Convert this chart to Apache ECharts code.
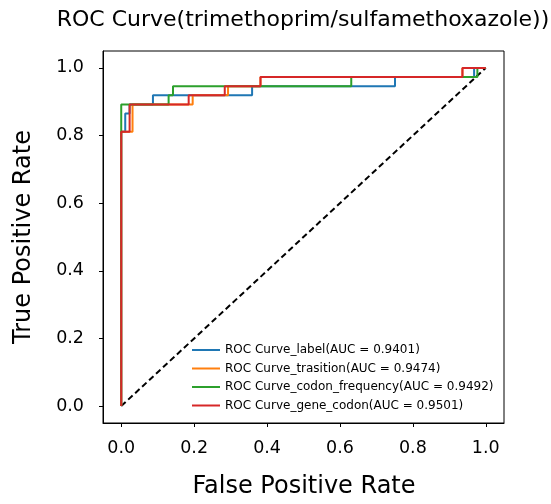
<!DOCTYPE html>
<html>
<head>
<meta charset="utf-8">
<script src="https://cdn.jsdelivr.net/npm/echarts@6/dist/echarts.min.js"></script>
<style>html,body{margin:0;padding:0;background:#fff}#c{width:551px;height:504px}</style>
</head>
<body>
<div id="c"></div>
<script>
var titleText = 'ROC Curve(trimethoprim/sulfamethoxazole))';
var xName = 'False Positive Rate';
var yName = 'True Positive Rate';
var tickValues = [0, 0.2, 0.4, 0.6, 0.8, 1.0];

var seriesNames = [
  'ROC Curve_label(AUC = 0.9401)',
  'ROC Curve_trasition(AUC = 0.9474)',
  'ROC Curve_codon_frequency(AUC = 0.9492)',
  'ROC Curve_gene_codon(AUC = 0.9501)'
];
var seriesColors = ['#1f77b4', '#ff7f0e', '#2ca02c', '#d62728'];

var fprLabel = [0, 0, 0.011, 0.011, 0.023, 0.023, 0.087, 0.087, 0.359, 0.359, 0.751, 0.751, 0.968, 0.968, 1];
var tprLabel = [0, 0.811, 0.811, 0.865, 0.865, 0.892, 0.892, 0.919, 0.919, 0.946, 0.946, 0.973, 0.973, 1, 1];

var fprTrans = [0, 0, 0.031, 0.031, 0.196, 0.196, 0.293, 0.293, 0.382, 0.382, 0.936, 0.936, 1];
var tprTrans = [0, 0.811, 0.811, 0.892, 0.892, 0.919, 0.919, 0.946, 0.946, 0.973, 0.973, 1, 1];

var fprCodon = [0, 0, 0.130, 0.130, 0.142, 0.142, 0.631, 0.631, 0.977, 0.977, 1];
var tprCodon = [0, 0.892, 0.892, 0.919, 0.919, 0.946, 0.946, 0.973, 0.973, 1, 1];

var fprGene = [0, 0, 0.023, 0.023, 0.185, 0.185, 0.284, 0.284, 0.382, 0.382, 0.936, 0.936, 1];
var tprGene = [0, 0.811, 0.811, 0.892, 0.892, 0.919, 0.919, 0.946, 0.946, 0.973, 0.973, 1, 1];

var diagX = [0, 1];
var diagY = [0, 1];

function pairs(xs, ys) { return xs.map(function (x, i) { return [x, ys[i]]; }); }

var curves = [pairs(fprLabel, tprLabel), pairs(fprTrans, tprTrans), pairs(fprCodon, tprCodon), pairs(fprGene, tprGene)];
var FONT = 'DejaVu Sans';

var series = curves.map(function (d, i) {
  return {
    name: seriesNames[i], type: 'line', data: d, symbol: 'none', animation: false,
    lineStyle: { color: seriesColors[i], width: 2 }, itemStyle: { color: seriesColors[i] }, z: 3 + i
  };
});
series.push({
  name: 'diag', type: 'line', data: pairs(diagX, diagY), symbol: 'none', animation: false,
  lineStyle: { color: '#000', width: 2, type: [6, 3.5] }, z: 2
});

function axisCfg(margin) {
  return {
    type: 'value', min: -0.05, max: 1.05,
    axisLine: { show: true, onZero: false, lineStyle: { color: '#000', width: 1 } },
    axisTick: { show: true, length: 4, lineStyle: { color: '#000', width: 1 }, customValues: tickValues },
    axisLabel: { customValues: tickValues, formatter: function (v) { return v.toFixed(1); }, fontSize: 17.5, color: '#000', fontFamily: FONT, margin: margin },
    splitLine: { show: false }
  };
}

var chart = echarts.init(document.getElementById('c'), null, { renderer: 'canvas' });
chart.setOption({
  animation: false,
  backgroundColor: '#fff',
  grid: { left: 103, right: 47, top: 51, bottom: 81, show: true, borderColor: '#000', borderWidth: 1, backgroundColor: 'transparent' },
  xAxis: axisCfg(16),
  yAxis: axisCfg(19),
  legend: {
    data: seriesNames, orient: 'vertical', left: 192, top: 344, padding: 0,
    icon: 'rect', itemWidth: 28, itemHeight: 2, itemGap: 6.5,
    textStyle: { fontSize: 12, fontFamily: FONT, color: '#000', lineHeight: 12 }
  },
  graphic: [
    { type: 'text', x: 303, y: 20, style: { text: titleText, font: '22px "DejaVu Sans"', fill: '#000', textAlign: 'center', textVerticalAlign: 'middle' } },
    { type: 'text', x: 304, y: 487, style: { text: xName, font: '24px "DejaVu Sans"', fill: '#000', textAlign: 'center', textVerticalAlign: 'middle' } },
    { type: 'text', x: 24, y: 237, rotation: Math.PI / 2, style: { text: yName, font: '24px "DejaVu Sans"', fill: '#000', textAlign: 'center', textVerticalAlign: 'middle' } }
  ],
  series: series
});
</script>
</body>
</html>
